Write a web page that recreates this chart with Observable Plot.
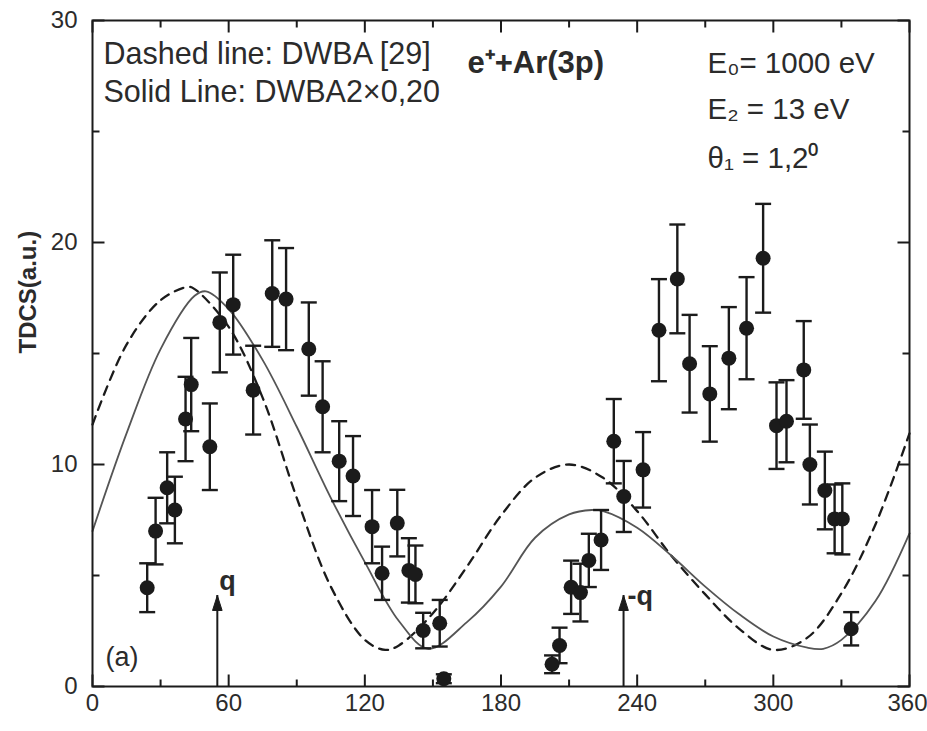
<!DOCTYPE html>
<html>
<head>
<meta charset="utf-8">
<script src="https://cdn.jsdelivr.net/npm/d3@7"></script>
<script src="https://cdn.jsdelivr.net/npm/@observablehq/plot@0.6"></script>
<style>
  html, body { margin: 0; padding: 0; background: #fff; }
  svg { display: block; }
</style>
</head>
<body>
<script>
// Measured TDCS, e+ + Ar(3p): ejection angle (deg), TDCS (a.u.), error bar half-width
const angle = [24.1, 27.8, 32.9, 36.3, 41.0, 43.5, 51.7, 56.1, 62.0, 70.8,
               79.2, 85.3, 95.3, 101.4, 108.7, 114.8, 123.2, 127.6, 134.3, 139.4,
               142.3, 145.7, 153.0, 154.8, 202.5, 205.8, 210.9, 215.0, 218.7, 224.1,
               229.7, 234.1, 242.6, 249.6, 257.7, 263.1, 272.0, 280.4, 288.2, 295.5,
               301.4, 305.8, 313.4, 316.1, 322.7, 327.0, 330.4, 334.3];
const tdcs  = [4.45, 7.0, 8.95, 7.95, 12.05, 13.6, 10.8, 16.4, 17.2, 13.35,
               17.7, 17.45, 15.2, 12.6, 10.15, 9.48, 7.2, 5.1, 7.36, 5.23,
               5.05, 2.52, 2.85, 0.35, 1.0, 1.85, 4.47, 4.23, 5.68, 6.6,
               11.05, 8.56, 9.76, 16.05, 18.36, 14.54, 13.18, 14.79, 16.14, 19.29,
               11.75, 11.95, 14.26, 10.0, 8.83, 7.55, 7.55, 2.6];
const err   = [1.1, 1.5, 1.6, 1.5, 1.9, 2.1, 1.95, 2.25, 2.25, 2.0,
               2.4, 2.3, 2.1, 2.05, 1.8, 1.8, 1.65, 1.2, 1.5, 1.45,
               1.3, 0.8, 1.05, 0.2, 0.4, 0.8, 1.2, 1.3, 1.2, 1.35,
               1.9, 1.6, 1.7, 2.3, 2.45, 2.2, 2.15, 2.3, 2.3, 2.45,
               1.95, 1.85, 2.2, 1.8, 1.75, 1.55, 1.6, 0.75];

// DWBA [29] (dashed)
const dwbaAngle = [0, 15, 30, 42, 45, 60, 75, 90, 105, 120, 129, 135, 150, 165,
                   180, 195, 210, 225, 240, 255, 270, 285, 300, 315, 330, 345, 360];
const dwbaTdcs  = [11.8, 15.4, 17.4, 18.0, 17.9, 16.2, 13.0, 8.5, 4.5, 2.1, 1.65, 1.85, 3.3, 5.4,
                   7.7, 9.4, 10.0, 9.4, 7.9, 5.9, 4.15, 2.6, 1.65, 2.2, 4.2, 7.3, 11.4];

// DWBA2 x 0.20 (solid)
const dwba2Angle = [0, 15, 30, 45, 50, 60, 75, 90, 105, 120, 135, 148, 165, 180,
                    195, 210, 220, 225, 240, 255, 270, 285, 300, 315, 322, 330, 345, 360];
const dwba2Tdcs  = [7.0, 11.4, 15.2, 17.6, 17.8, 17.0, 14.7, 11.7, 8.5, 5.6, 2.95, 1.7, 2.9, 4.5,
                    6.7, 7.75, 7.95, 7.9, 7.15, 5.9, 4.5, 3.25, 2.25, 1.75, 1.7, 2.1, 3.85, 6.9];

// Momentum transfer directions
const arrowLabels = ["q", "-q"];
const arrowAngles = [55, 234];
const arrowTips   = [4.1, 4.1];

const xTicks = [0, 60, 120, 180, 240, 300, 360];
const xMinor = [30, 90, 150, 210, 270, 330];
const yTicks = [0, 10, 20, 30];
const yMinor = [5, 15, 25];

const points = angle.map((a, i) => ({a, v: tdcs[i], e: err[i]}));
const dashed = dwbaAngle.map((a, i) => ({a, v: dwbaTdcs[i]}));
const solid = dwba2Angle.map((a, i) => ({a, v: dwba2Tdcs[i]}));
const arrows = arrowLabels.map((label, i) => ({label, a: arrowAngles[i], tip: arrowTips[i]}));

const ink = "#1b1b1b";
const textInk = "#2b2b2b";

// Custom symbols: r sets the stroke length
const len = (size) => Math.sqrt(size / Math.PI);
const hline = {draw(c, s) { const r = len(s); c.moveTo(-r, 0); c.lineTo(r, 0); }};
const tickUp = {draw(c, s) { const r = len(s); c.moveTo(0, 0); c.lineTo(0, -r); }};
const tickDown = {draw(c, s) { const r = len(s); c.moveTo(0, 0); c.lineTo(0, r); }};
const tickRight = {draw(c, s) { const r = len(s); c.moveTo(0, 0); c.lineTo(r, 0); }};
const tickLeft = {draw(c, s) { const r = len(s); c.moveTo(0, 0); c.lineTo(-r, 0); }};
const head = {draw(c, s) { const r = len(s); c.moveTo(0, 0); c.lineTo(-0.32 * r, r); c.lineTo(0.32 * r, r); c.closePath(); }};

const tickMarks = (sym, anchor, values, r, channel) =>
  Plot.dot(values, {[channel]: d => d, frameAnchor: anchor, symbol: sym, r, stroke: ink, strokeWidth: 2, fill: "none"});

const note = (txt, anchor, dx, dy, opts = {}) =>
  Plot.text([txt], {frameAnchor: anchor, dx, dy, textAnchor: "start", lineAnchor: "bottom",
                    fontSize: 29, fill: textInk, ...opts});

const chart = Plot.plot({
  width: 927,
  height: 731,
  marginLeft: 92,
  marginRight: 18,
  marginTop: 20,
  marginBottom: 45,
  x: {domain: [0, 360], label: null},
  y: {domain: [0, 30], label: null},
  style: {fontFamily: "'Liberation Sans', Arial, Helvetica, sans-serif", background: "#fff", color: textInk},
  marks: [
    Plot.axisX(xTicks.slice(0, -1), {tickSize: 0, tickPadding: 7, fontSize: 24, fill: textInk}),
    // last label sits against the right edge
    Plot.axisX(xTicks.slice(-1), {tickSize: 0, tickPadding: 7, fontSize: 24, fill: textInk, textAnchor: "end", dx: 18}),
    Plot.axisY(yTicks, {tickSize: 0, tickPadding: 15, fontSize: 24, fill: textInk}),

    // theory curves
    Plot.line(dashed, {x: "a", y: "v", curve: "catmull-rom", stroke: ink, strokeWidth: 2.3, strokeDasharray: "9,7"}),
    Plot.line(solid, {x: "a", y: "v", curve: "catmull-rom", stroke: "#555", strokeWidth: 1.8}),

    // measurements with error bars
    Plot.ruleX(points, {x: "a", y1: d => d.v - d.e, y2: d => d.v + d.e, stroke: ink, strokeWidth: 2.4}),
    Plot.dot(points, {x: "a", y: d => d.v + d.e, symbol: hline, r: 8, stroke: ink, strokeWidth: 2.4, fill: "none"}),
    Plot.dot(points, {x: "a", y: d => d.v - d.e, symbol: hline, r: 8, stroke: ink, strokeWidth: 2.4, fill: "none"}),
    Plot.dot(points, {x: "a", y: "v", r: 7.5, fill: ink, stroke: "none"}),

    // q and -q arrows
    Plot.ruleX(arrows, {x: "a", y1: 0, y2: "tip", stroke: ink, strokeWidth: 2}),
    Plot.dot(arrows, {x: "a", y: "tip", symbol: head, r: 15, fill: ink, stroke: ink, strokeWidth: 1}),
    Plot.text(arrows.slice(0, 1), {x: "a", y: "tip", text: "label", dx: 2, dy: -5, textAnchor: "start", lineAnchor: "bottom", fontSize: 27, fontWeight: "bold", fill: textInk}),
    Plot.text(arrows.slice(1), {x: "a", y: "tip", text: "label", dx: 4, dy: 10, textAnchor: "start", lineAnchor: "bottom", fontSize: 27, fontWeight: "bold", fill: textInk}),

    // inward ticks on all four sides
    tickMarks(tickUp, "bottom", xTicks, 12, "x"),
    tickMarks(tickUp, "bottom", xMinor, 7, "x"),
    tickMarks(tickDown, "top", xTicks, 12, "x"),
    tickMarks(tickDown, "top", xMinor, 7, "x"),
    tickMarks(tickRight, "left", yTicks, 12, "y"),
    tickMarks(tickRight, "left", yMinor, 7, "y"),
    tickMarks(tickLeft, "right", yTicks, 12, "y"),
    tickMarks(tickLeft, "right", yMinor, 7, "y"),
    Plot.frame({stroke: ink, strokeWidth: 2}),

    // annotations
    note("Dashed line: DWBA [29]", "top-left", 11, 43, {fontSize: 30.5}),
    note("Solid Line: DWBA2\u00d70,20", "top-left", 11, 81, {fontSize: 30.5}),
    note("e\u207a+Ar(3p)", "top-left", 375, 52, {fontWeight: "bold", fontSize: 31}),
    note("E\u2080= 1000 eV", "top-left", 615, 52, {fontSize: 29.5}),
    note("E\u2082 = 13 eV", "top-left", 615, 98, {fontSize: 29.5}),
    note("\u03b8\u2081 = 1,2\u2070", "top-left", 615, 147, {fontSize: 29.5}),
    note("(a)", "bottom-left", 13, -21, {fontSize: 27}),

    // y-axis title
    Plot.text(["TDCS(a.u.)"], {frameAnchor: "left", dx: -64, rotate: -90, fontSize: 24, fontWeight: "bold", fill: textInk, lineAnchor: "middle"})
  ]
});

document.body.appendChild(chart);
</script>
</body>
</html>
